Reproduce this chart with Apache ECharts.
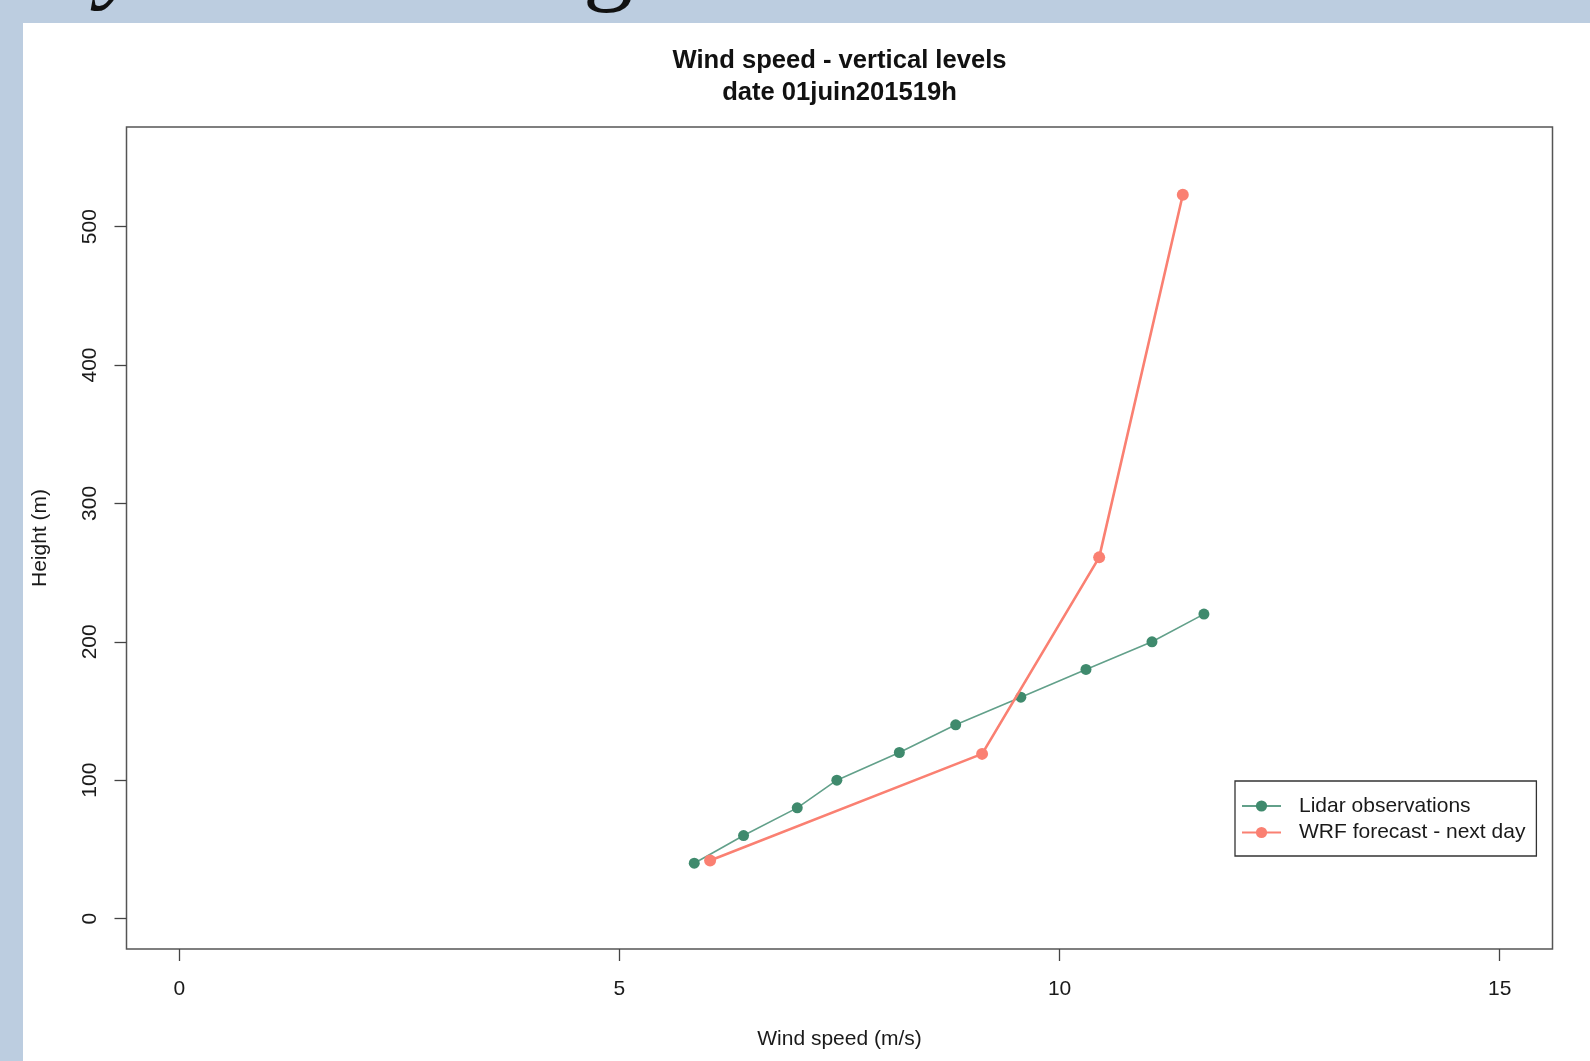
<!DOCTYPE html>
<html>
<head>
<meta charset="utf-8">
<script src="https://cdn.jsdelivr.net/npm/echarts@6/dist/echarts.min.js"></script>
<style>
html, body { margin: 0; padding: 0; background: #bccde0; }
#c { width: 1590px; height: 1061px; }
</style>
</head>
<body>
<div id="c"></div>
<script>
// ---- data ----
const lidarSpeed  = [5.85, 6.41, 7.02, 7.47, 8.18, 8.82, 9.56, 10.30, 11.05, 11.64];
const lidarHeight = [40, 60, 80, 100, 120, 140, 160, 180, 200, 220];
const wrfSpeed    = [6.03, 9.12, 10.45, 11.40];
const wrfHeight   = [42, 119, 261, 523];
const xTicks = [0, 5, 10, 15];
const yTicks = [0, 100, 200, 300, 400, 500];
const titleLines  = ['Wind speed - vertical levels', 'date 01juin201519h'];
const seriesNames = ['Lidar observations', 'WRF forecast - next day'];
const xAxisName = 'Wind speed (m/s)';
const yAxisName = 'Height (m)';
const slideGlyphs = ['y', 'g'];

// ---- layout ----
const FONT = '"Liberation Sans", Arial, Helvetica, sans-serif';
const plotL = 126.5, plotR = 1552.5, plotT = 127, plotB = 949;
const W = 1590, H = 1061;
const cx = (plotL + plotR) / 2;

const chart = echarts.init(document.getElementById('c'), null, { renderer: 'canvas' });

const option = {
  animation: false,
  backgroundColor: '#bccde0',
  textStyle: { fontFamily: FONT },
  graphic: [
    { type: 'rect', z: -100, silent: true,
      shape: { x: 23, y: 23, width: W - 23, height: H - 23 },
      style: { fill: '#ffffff' } },
    { type: 'text', z: -50, silent: true, x: 99, y: -36,
      style: { text: slideGlyphs[0], fontFamily: '"Liberation Serif", serif', fontStyle: 'italic', fontSize: 100, fill: '#111', verticalAlign: 'middle' } },
    { type: 'text', z: -50, silent: true, x: 583, y: -34,
      style: { text: slideGlyphs[1], fontFamily: '"Liberation Serif", serif', fontSize: 100, fill: '#111', verticalAlign: 'middle' } },
    { type: 'text', silent: true, x: cx, y: 60.5,
      style: { text: titleLines[0], fontFamily: FONT, fontWeight: 'bold', fontSize: 25.6, fill: '#111', align: 'center', verticalAlign: 'middle' } },
    { type: 'text', silent: true, x: cx, y: 93,
      style: { text: titleLines[1], fontFamily: FONT, fontWeight: 'bold', fontSize: 25.6, fill: '#111', align: 'center', verticalAlign: 'middle' } }
  ],
  grid: {
    left: plotL, right: W - plotR, top: plotT, bottom: H - plotB,
    show: true, borderColor: '#555', borderWidth: 1.5, backgroundColor: 'transparent',
    containLabel: false, outerBoundsMode: 'none'
  },
  legend: {
    orient: 'vertical', left: 1235, top: 781,
    padding: [14.5, 11, 13, 6],
    itemWidth: 39, itemHeight: 14, itemGap: 5.5,
    borderColor: '#333', borderWidth: 1.3, backgroundColor: '#fff',
    selectedMode: false,
    textStyle: { fontSize: 21, lineHeight: 21, color: '#1a1a1a', fontFamily: FONT, padding: [0, 0, 0, 13] },
    data: seriesNames
  },
  xAxis: {
    type: 'value', min: -0.6, max: 15.6,
    name: xAxisName, nameLocation: 'middle', nameGap: 79.5,
    nameTextStyle: { fontSize: 21, color: '#1a1a1a', fontFamily: FONT },
    axisLine: { show: false, onZero: false },
    splitLine: { show: false },
    axisTick: { show: true, length: 12, customValues: xTicks, lineStyle: { color: '#444', width: 1.3 } },
    axisLabel: { fontSize: 21, color: '#1a1a1a', margin: 30, customValues: xTicks, fontFamily: FONT }
  },
  yAxis: {
    type: 'value', min: -22, max: 572,
    name: yAxisName, nameLocation: 'middle', nameGap: 75.5,
    nameTextStyle: { fontSize: 21, color: '#1a1a1a', fontFamily: FONT },
    axisLine: { show: false, onZero: false },
    splitLine: { show: false },
    axisTick: { show: true, length: 12, customValues: yTicks, lineStyle: { color: '#444', width: 1.3 } },
    axisLabel: { fontSize: 21, color: '#1a1a1a', margin: 26, rotate: 90, customValues: yTicks, fontFamily: FONT }
  },
  series: [
    {
      type: 'line', name: seriesNames[0], z: 3,
      data: lidarSpeed.map((v, i) => [v, lidarHeight[i]]),
      symbol: 'circle', symbolSize: 11, showSymbol: true,
      lineStyle: { color: '#62a08a', width: 1.6 },
      itemStyle: { color: '#3f8a6d' },
      emphasis: { disabled: true }
    },
    {
      type: 'line', name: seriesNames[1], z: 4,
      data: wrfSpeed.map((v, i) => [v, wrfHeight[i]]),
      symbol: 'circle', symbolSize: 12, showSymbol: true,
      lineStyle: { color: '#fa8072', width: 2.6 },
      itemStyle: { color: '#fa8072' },
      emphasis: { disabled: true }
    }
  ]
};
chart.setOption(option);
</script>
</body>
</html>
